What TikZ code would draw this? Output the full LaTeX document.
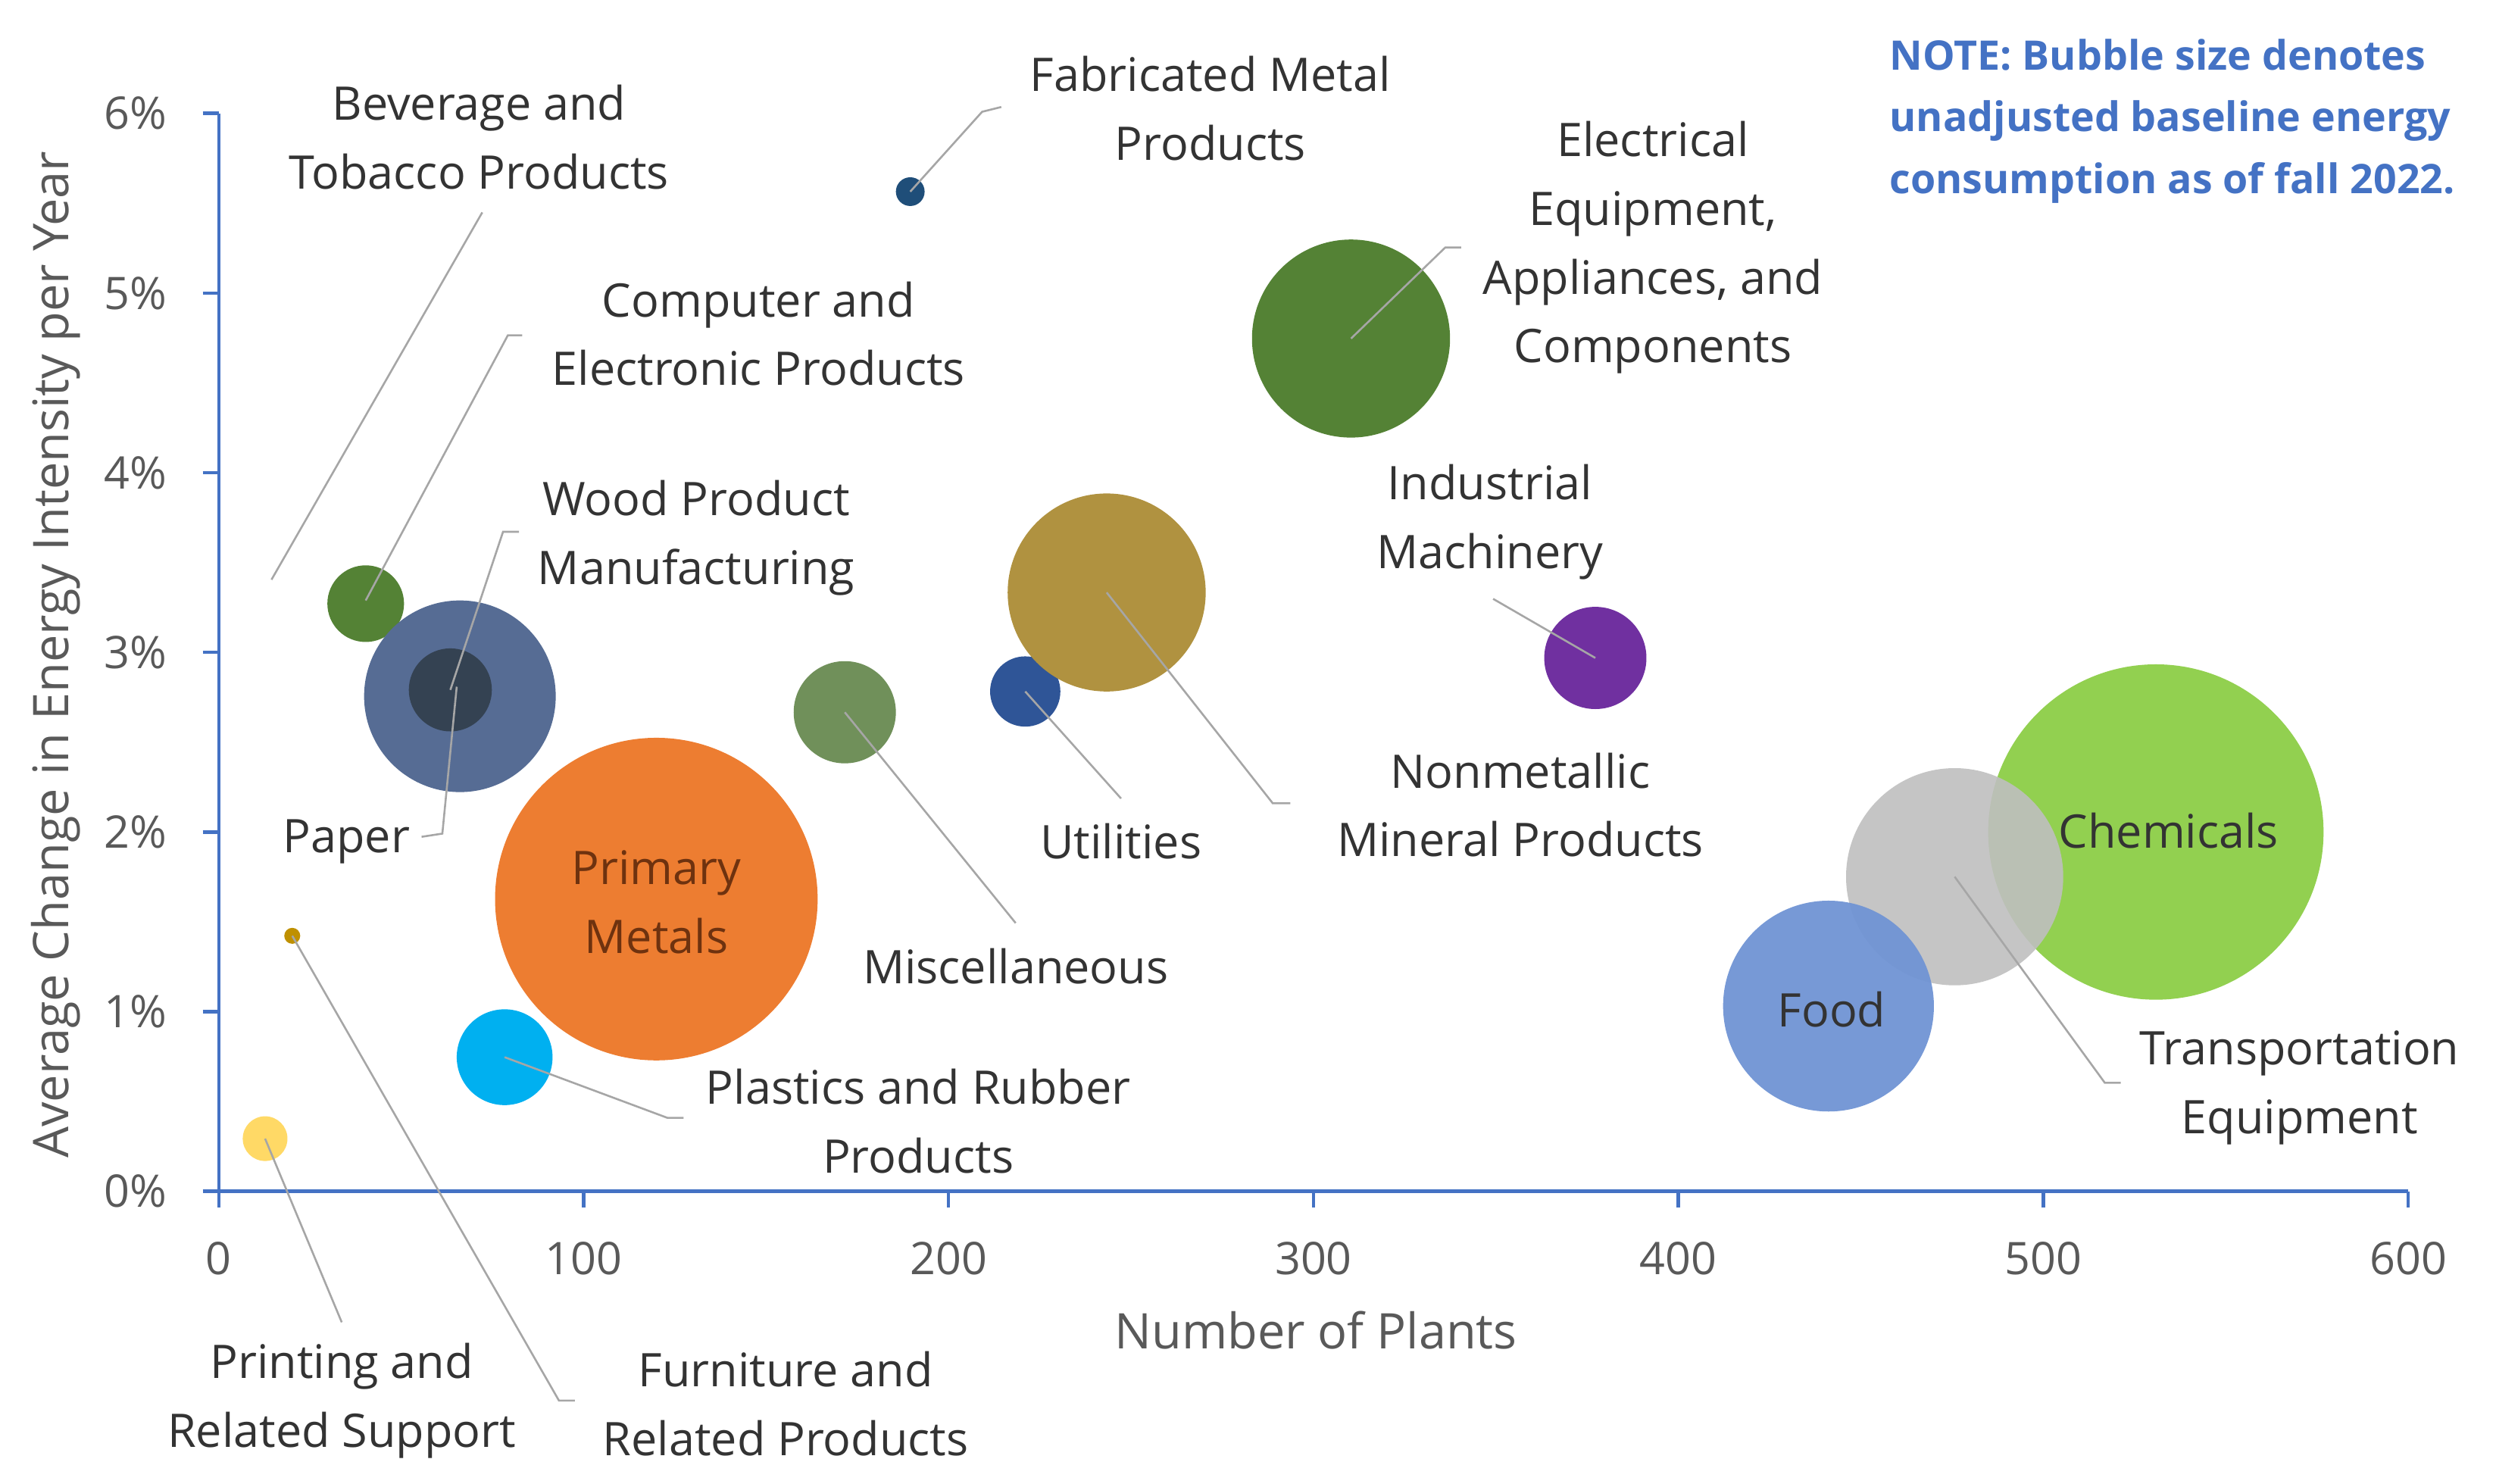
\documentclass[tikz,border=0pt]{standalone}
\usepackage{fontspec}
\setmainfont{Open Sans}
\begin{document}
\begin{tikzpicture}[x=0.02cm,y=-0.02cm,
  lab/.style={font=\fontsize{16.5}{24.5}\selectfont,text=black!80,align=center,inner sep=0pt},
  tick/.style={font=\fontsize{16}{18}\selectfont,text=black!65,inner sep=0pt},
  lead/.style={draw=black!35,line width=0.7pt}]
\useasboundingbox (0,0) rectangle (1563,929);
\definecolor{axb}{HTML}{4472C4}
% bubbles
\fill[fill={rgb,255:red,146;green,208;blue,80}] (1350,521) circle (105);
\fill[fill={rgb,255:red,191;green,191;blue,191},opacity=0.9] (1224,549) circle (68);
\fill[fill={rgb,255:red,112;green,148;blue,212},opacity=0.95] (1145,630) circle (66);
\fill[fill={rgb,255:red,84;green,130;blue,53}] (846,212) circle (62);
\fill[fill={rgb,255:red,31;green,78;blue,121}] (570,120) circle (9);
\fill[fill={rgb,255:red,84;green,130;blue,53}] (229,378) circle (24);
\fill[fill={rgb,255:red,86;green,108;blue,148}] (288,436) circle (60);
\fill[fill={rgb,255:red,52;green,66;blue,82}] (282,432) circle (26);
\fill[fill={rgb,255:red,237;green,125;blue,49}] (411,563) circle (101);
\fill[fill={rgb,255:red,112;green,144;blue,90}] (529,446) circle (32);
\fill[fill={rgb,255:red,47;green,85;blue,151}] (642,433) circle (22);
\fill[fill={rgb,255:red,176;green,146;blue,64}] (693,371) circle (62);
\fill[fill={rgb,255:red,112;green,48;blue,160}] (999,412) circle (32);
\fill[fill={rgb,255:red,0;green,176;blue,240}] (316,662) circle (30);
\fill[fill={rgb,255:red,255;green,217;blue,102}] (166,713) circle (14);
\fill[fill={rgb,255:red,191;green,144;blue,0}] (183,586) circle (5);
% axes
\draw[axb,line width=1.2pt] (137,71) -- (137,746) -- (1508,746);
\foreach \i in {0,...,6} {
  \draw[axb,line width=1.2pt] (127,746-112.5*\i) -- (137,746-112.5*\i);
  \node[tick,anchor=east] (yt\i) at (105,746-112.5*\i) {\i\%};
}
\foreach \i in {0,...,6} {
  \draw[axb,line width=1.2pt] (137+228.5*\i,746) -- (137+228.5*\i,756);
  \node[tick] (xt\i) at (137+228.5*\i,788) {\number\numexpr\i*100\relax};
}
\node[tick,font=\fontsize{17.5}{20}\selectfont] (xtitle) at (824,833) {Number of Plants};
\node[tick,font=\fontsize{17.5}{20}\selectfont,rotate=90] (ytitle) at (35,410) {Average Change in Energy Intensity per Year};
% coordinates
\coordinate (fab) at (570,120); \coordinate (ele) at (846,212); \coordinate (bev) at (170,363);
\coordinate (com) at (229,376); \coordinate (woo) at (282,432); \coordinate (pap) at (286,430);
\coordinate (mis) at (529,446); \coordinate (uti) at (642,433); \coordinate (non) at (693,371);
\coordinate (ind) at (999,412); \coordinate (tra) at (1224,549); \coordinate (pla) at (316,662);
\coordinate (pri) at (166,713); \coordinate (fur) at (183,586);
% leaders
\draw[lead] (fab) -- (615,70) -- (627,67);
\draw[lead] (bev) -- (302,133);
\draw[lead] (com) -- (318,210) -- (327,210);
\draw[lead] (woo) -- (315,333) -- (325,333);
\draw[lead] (pap) -- (277,522) -- (264,524);
\draw[lead] (ele) -- (905,155) -- (915,155);
\draw[lead] (ind) -- (935,375);
\draw[lead] (non) -- (797,503) -- (808,503);
\draw[lead] (uti) -- (702,500);
\draw[lead] (mis) -- (636,578);
\draw[lead] (tra) -- (1318,678) -- (1328,678);
\draw[lead] (pla) -- (418,700) -- (428,700);
\draw[lead] (pri) -- (214,828);
\draw[lead] (fur) -- (350,877) -- (360,877);
% labels
\node[lab] (lfab) at (758,68) {Fabricated Metal\\Products};
\node[lab] (lbev) at (300,86) {Beverage and\\Tobacco Products};
\node[lab] (lcom) at (475,209) {Computer and\\Electronic Products};
\node[lab] (lwoo) at (436,337) {Wood Product\\Manufacturing};
\node[lab] (lpap) at (217,527) {Paper};
\node[lab] (lele) at (1035,155) {Electrical\\Equipment,\\Appliances, and\\Components};
\node[lab] (lind) at (933,327) {Industrial\\Machinery};
\node[lab] (lnon) at (952,504) {Nonmetallic\\Mineral Products};
\node[lab] (luti) at (702,527) {Utilities};
\node[lab] (lmis) at (636,605) {Miscellaneous};
\node[lab] (ltra) at (1440,681) {Transportation\\Equipment};
\node[lab] (lpla) at (575,702) {Plastics and Rubber\\Products};
\node[lab] (lprt) at (214,877) {Printing and\\Related Support};
\node[lab] (lfur) at (492,879) {Furniture and\\Related Products};
\node[lab,text={rgb,255:red,110;green,50;blue,15}] (lprm) at (411,565) {Primary\\Metals};
\node[lab] (lche) at (1358,520) {Chemicals};
\node[lab] (lfoo) at (1147,632) {Food};
\node[lab,align=left,anchor=north west,text=axb,font=\fontsize{14.5}{22}\selectfont\bfseries] (note) at (1183,24) {NOTE: Bubble size denotes\\unadjusted baseline energy\\consumption as of fall 2022.};
\end{tikzpicture}
\end{document}
